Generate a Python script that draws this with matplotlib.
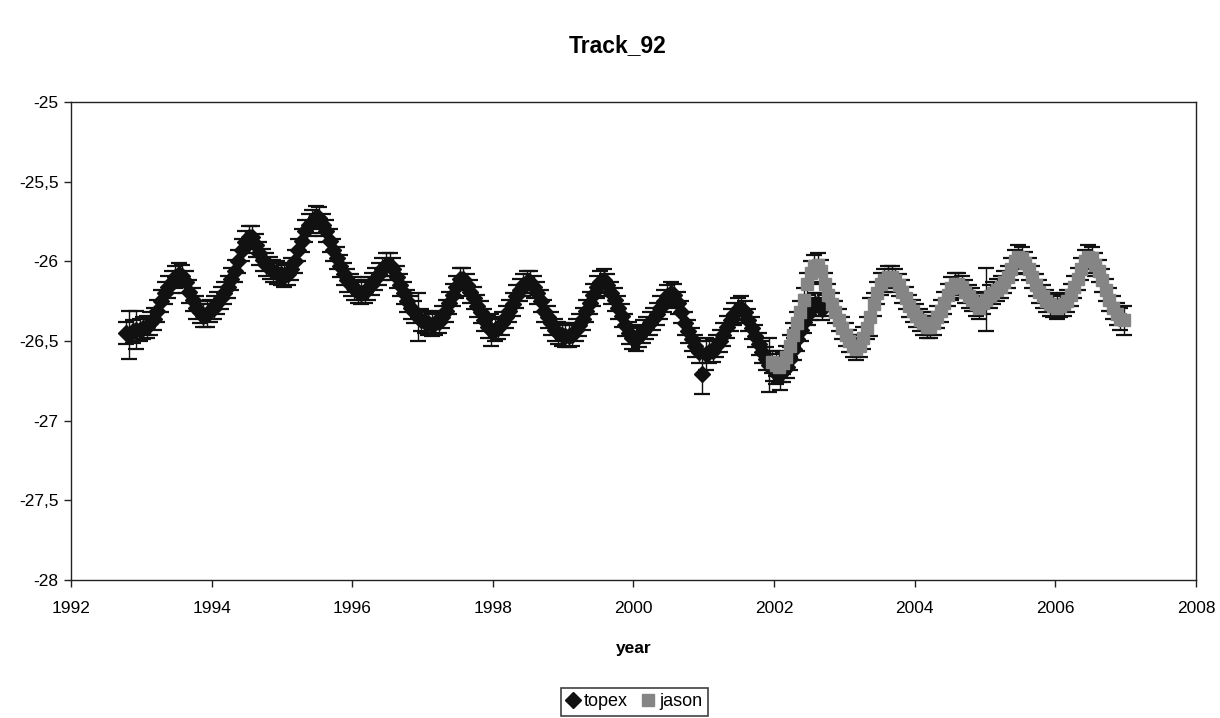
import numpy as np
import matplotlib
matplotlib.use("Agg")
import matplotlib.pyplot as plt
from matplotlib.lines import Line2D
from matplotlib.ticker import FuncFormatter

plt.rcParams['font.family'] = ['Liberation Sans', 'DejaVu Sans']
plt.rcParams['axes.unicode_minus'] = False

# topex: one value every 0.05 yr starting 1992.78 (rows of one year)
topex_start = 1992.78
topex_step = 0.05
topex_vals = [
    -26.45, -26.46, -26.44, -26.43, -26.43, -26.42, -26.41, -26.39, -26.36, -26.31,
    -26.25, -26.20, -26.16, -26.13, -26.10, -26.08, -26.09, -26.13, -26.19, -26.24,
    -26.29, -26.32, -26.34, -26.33, -26.31, -26.29, -26.26, -26.23, -26.20, -26.16,
    -26.11, -26.06, -26.00, -25.93, -25.88, -25.85, -25.85, -25.90, -25.95, -25.99,
    -26.02, -26.04, -26.06, -26.07, -26.08, -26.09, -26.08, -26.05, -26.00, -25.93,
    -25.87, -25.81, -25.77, -25.75, -25.72, -25.73, -25.77, -25.81, -25.87, -25.93,
    -25.98, -26.03, -26.08, -26.12, -26.15, -26.17, -26.19, -26.20, -26.19, -26.17,
    -26.14, -26.11, -26.08, -26.05, -26.02, -26.02, -26.05, -26.10, -26.15, -26.20,
    -26.25, -26.29, -26.32, -26.35, -26.37, -26.38, -26.39, -26.40, -26.39, -26.38,
    -26.35, -26.31, -26.26, -26.21, -26.16, -26.11, -26.11, -26.15, -26.19, -26.23,
    -26.28, -26.32, -26.37, -26.41, -26.43, -26.43, -26.42, -26.39, -26.35, -26.31,
    -26.27, -26.22, -26.18, -26.15, -26.13, -26.13, -26.16, -26.20, -26.25, -26.31,
    -26.35, -26.39, -26.43, -26.45, -26.46, -26.47, -26.47, -26.46, -26.43, -26.40,
    -26.36, -26.31, -26.26, -26.21, -26.16, -26.13, -26.12, -26.15, -26.20, -26.24,
    -26.29, -26.34, -26.40, -26.45, -26.48, -26.49, -26.47, -26.44, -26.42, -26.39,
    -26.36, -26.33, -26.29, -26.25, -26.22, -26.20, -26.21, -26.26, -26.32, -26.39,
    -26.44, -26.49, -26.53, -26.57, -26.71, -26.58, -26.57, -26.56, -26.53, -26.50,
    -26.46, -26.41, -26.37, -26.33, -26.30, -26.29, -26.32, -26.37, -26.42, -26.47,
    -26.52, -26.57, -26.61, -26.65, -26.68, -26.70, -26.71, -26.69, -26.66, -26.61,
    -26.55, -26.49, -26.43, -26.38, -26.33, -26.30, -26.27, -26.27, -26.30,
]

# jason: one value every 0.05 yr starting 2001.97
jason_start = 2001.97
jason_step = 0.05
jason_vals = [
    -26.63, -26.65, -26.66, -26.64, -26.60, -26.53, -26.46, -26.39, -26.32, -26.24,
    -26.14, -26.07, -26.03, -26.02, -26.06, -26.14, -26.21, -26.27, -26.32, -26.37,
    -26.42, -26.46, -26.50, -26.53, -26.55, -26.53, -26.48, -26.42, -26.35, -26.27,
    -26.20, -26.14, -26.12, -26.10, -26.10, -26.12, -26.15, -26.19, -26.23, -26.28,
    -26.31, -26.34, -26.37, -26.39, -26.41, -26.41, -26.39, -26.35, -26.31, -26.26,
    -26.21, -26.17, -26.14, -26.14, -26.16, -26.19, -26.22, -26.24, -26.27, -26.29,
    -26.26, -26.24, -26.22, -26.20, -26.18, -26.16, -26.13, -26.10, -26.05, -26.00,
    -25.97, -25.98, -26.01, -26.05, -26.10, -26.15, -26.19, -26.22, -26.25, -26.27,
    -26.28, -26.29, -26.28, -26.27, -26.25, -26.21, -26.16, -26.11, -26.05, -26.00,
    -25.97, -25.98, -26.02, -26.06, -26.12, -26.18, -26.24, -26.29, -26.33, -26.36,
    -26.37,
]

# error bars: usual half-width, plus the few longer bars (index, half-width)
topex_err_base = 0.07
topex_err_big = [(1, 0.15), (3, 0.12), (23, 0.08), (83, 0.15), (104, 0.1),
                 (164, 0.12), (165, 0.1), (183, 0.17), (186, 0.1)]
jason_err_base = 0.07
jason_err_big = [(2, 0.1), (28, 0.12), (61, 0.2), (100, 0.09)]

years_ticks = [1992, 1994, 1996, 1998, 2000, 2002, 2004, 2006, 2008]
y_ticks = [-28, -27.5, -27, -26.5, -26, -25.5, -25]


def build(start, step, vals, base, big):
    x = start + step * np.arange(len(vals))
    err = np.full(len(vals), base)
    for i, e in big:
        err[i] = e
    return x, np.array(vals), err


tx, ty, te = build(topex_start, topex_step, topex_vals, topex_err_base, topex_err_big)
jx, jy, je = build(jason_start, jason_step, jason_vals, jason_err_base, jason_err_big)

fig = plt.figure(figsize=(12.2, 7.18), dpi=100)
ax = fig.add_axes([0.0582, 0.1922, 0.9221, 0.6657])

ax.errorbar(tx, ty, yerr=te, fmt='D', color='#111111', ms=8.5, mec='#111111',
            ecolor='#111111', elinewidth=1, capsize=5.5, capthick=1.6, zorder=2)
ax.errorbar(jx, jy, yerr=je, fmt='s', color='#858585', ms=8, mec='#858585',
            ecolor='#111111', elinewidth=1, capsize=5.5, capthick=1.6, zorder=3)

ax.set_xlim(1992, 2008)
ax.set_ylim(-28, -25)
ax.set_xticks(years_ticks)
ax.set_yticks(y_ticks)
ax.yaxis.set_major_formatter(FuncFormatter(lambda v, p: ('%g' % v).replace('.', ',')))
ax.tick_params(direction='out', length=5, width=1, labelsize=12.5, color='#222222')
ax.tick_params(axis='x', pad=10)
ax.tick_params(axis='y', pad=4)
for s in ax.spines.values():
    s.set_color('#222222')
    s.set_linewidth(1)

ax.set_xlabel('year', fontsize=12.5, fontweight='bold', labelpad=18)
fig.text(0.506, 0.937, 'Track_92', ha='center', va='center', fontsize=16.5, fontweight='bold')

handles = [Line2D([], [], marker='D', ls='none', color='#111111', ms=8),
           Line2D([], [], marker='s', ls='none', color='#858585', ms=9)]
leg = fig.legend(handles, ['topex', 'jason'], loc='upper center',
                 bbox_to_anchor=(0.52, 0.0418), ncol=2, fontsize=13, frameon=True,
                 fancybox=False, edgecolor='#111111', handlelength=0.7,
                 handletextpad=0.25, columnspacing=0.8, borderpad=0.3,
                 borderaxespad=0)
leg.get_frame().set_linewidth(1.2)

fig.savefig('out.png', dpi=100)
